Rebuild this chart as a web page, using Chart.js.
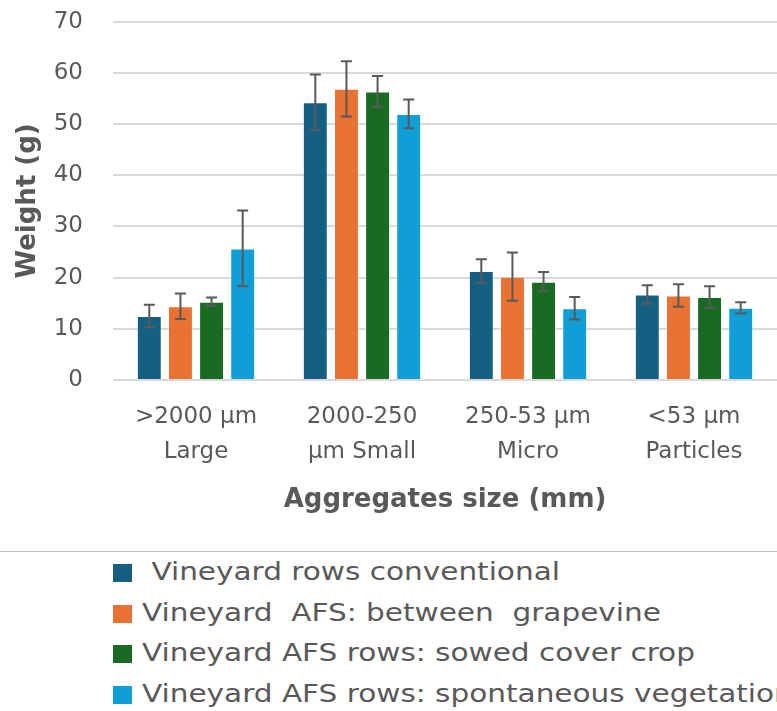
<!DOCTYPE html>
<html>
<head>
<meta charset="utf-8">
<script src="https://cdn.jsdelivr.net/npm/chart.js@4.4.1/dist/chart.umd.min.js"></script>
<style>
  body { margin: 0; background: #fff; font-family: 'DejaVu Sans', sans-serif; overflow: hidden; }
  #wrap { position: relative; width: 777px; height: 551px; }
  #legend { border-top: 1px solid #bfbfbf; padding: 0 0 0 113px; width: 1000px; }
  .item { height: 40.5px; line-height: 40.5px; font-size: 24px; color: #595959; white-space: pre; }
  .sw { display: inline-block; width: 19px; height: 18px; margin-right: 10px; vertical-align: -2px; }
  .txt { display: inline-block; transform: scaleX(1.23); transform-origin: left center; }
</style>
</head>
<body>
<div id="wrap"><canvas id="chart"></canvas></div>
<div id="legend"></div>
<script>
const categories = [['>2000 µm', 'Large'], ['2000-250', 'µm Small'], ['250-53 µm', 'Micro'], ['<53 µm', 'Particles']]
const seriesNames = [' Vineyard rows conventional', 'Vineyard  AFS: between  grapevine', 'Vineyard AFS rows: sowed cover crop', 'Vineyard AFS rows: spontaneous vegetation']
const colors = ['#156082', '#E97132', '#196B24', '#0F9ED5']

const conventional = [12.5, 54.3, 21.3, 16.7]
const between = [14.4, 56.9, 20.2, 16.5]
const sowed = [15.3, 56.4, 19.2, 16.2]
const spontaneous = [25.7, 52.0, 14.0, 14.1]

const errConventional = [2.2, 5.4, 2.3, 1.8]
const errBetween = [2.5, 5.4, 4.7, 2.2]
const errSowed = [0.8, 3.0, 1.9, 2.1]
const errSpontaneous = [7.4, 2.8, 2.2, 1.1]

const values = [conventional, between, sowed, spontaneous]
const errors = [errConventional, errBetween, errSowed, errSpontaneous]

const textColor = '#595959'

// error bars drawn on top of each bar
const errorBars = {
  id: 'errorBars',
  afterDatasetsDraw(chart) {
    const ctx = chart.ctx
    const y = chart.scales.y
    ctx.save()
    ctx.strokeStyle = '#595959'
    ctx.lineWidth = 2
    chart.data.datasets.forEach((ds, i) => {
      chart.getDatasetMeta(i).data.forEach((bar, j) => {
        const v = ds.data[j]
        const e = errors[i][j]
        const top = y.getPixelForValue(v + e)
        const bot = y.getPixelForValue(v - e)
        ctx.beginPath()
        ctx.moveTo(bar.x, top); ctx.lineTo(bar.x, bot)
        ctx.moveTo(bar.x - 5.5, top); ctx.lineTo(bar.x + 5.5, top)
        ctx.moveTo(bar.x - 5.5, bot); ctx.lineTo(bar.x + 5.5, bot)
        ctx.stroke()
      })
    })
    ctx.restore()
  },
}

new Chart(document.getElementById('chart'), {
  type: 'bar',
  data: {
    labels: categories,
    datasets: values.map((v, i) => ({
      label: seriesNames[i],
      data: v,
      backgroundColor: colors[i],
      borderColor: 'rgba(255,255,255,0.35)',
      borderWidth: 1,
      categoryPercentage: 0.75,
      barPercentage: 0.8,
    })),
  },
  options: {
    responsive: true,
    maintainAspectRatio: false,
    animation: false,
    layout: { padding: { top: 0, right: 0, bottom: 21 } },
    plugins: {
      legend: { display: false },
      tooltip: { enabled: false },
    },
    scales: {
      x: {
        afterFit: (s) => { s.height = 150 },
        grid: { display: false },
        border: { display: false },
        ticks: {
          color: textColor,
          padding: 12,
          font: { family: 'DejaVu Sans', size: 23, lineHeight: 1.52 },
        },
        title: {
          display: true,
          text: 'Aggregates size (mm)',
          color: textColor,
          padding: { top: 0, bottom: 14 },
          font: { family: 'DejaVu Sans', size: 26, weight: 'bold' },
        },
      },
      y: {
        min: 0,
        max: 70,
        afterFit: (s) => { s.width = 113 },
        grid: { color: '#d9d9d9', lineWidth: 2, tickLength: 22, tickColor: 'transparent' },
        border: { display: false },
        ticks: {
          stepSize: 10,
          color: textColor,
          padding: 8,
          font: { family: 'DejaVu Sans', size: 23 },
        },
        title: {
          display: true,
          text: 'Weight (g)',
          color: textColor,
          padding: { top: 13, bottom: 0 },
          font: { family: 'DejaVu Sans', size: 26, weight: 'bold' },
        },
      },
    },
  },
  plugins: [errorBars],
})

document.getElementById('legend').innerHTML = seriesNames
  .map((n, i) => `<div class="item"><span class="sw" style="background:${colors[i]}"></span><span class="txt">${n}</span></div>`)
  .join('')
</script>
</body>
</html>
